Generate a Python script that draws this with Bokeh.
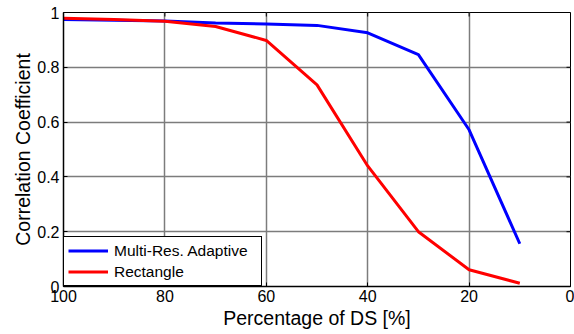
import math
from bokeh.plotting import figure
from bokeh.models import Range1d, FixedTicker, CustomJSTickFormatter, Legend, LegendItem
from bokeh.embed import file_html
from bokeh.resources import INLINE

pct = [100, 90, 80, 70, 60, 50, 40, 30, 20, 10]
adaptive = [0.974, 0.972, 0.969, 0.962, 0.958, 0.953, 0.926, 0.846, 0.572, 0.156]
rectangle = [0.979, 0.974, 0.968, 0.949, 0.898, 0.736, 0.44, 0.20, 0.061, 0.012]
x_ticks = [0, 20, 40, 60, 80, 100]
y_ticks = [0, 0.2, 0.4, 0.6, 0.8, 1.0]

FONT = "Liberation Sans"

p = figure(width=574, height=334, output_backend="svg", toolbar_location=None,
           x_range=Range1d(100, 0), y_range=Range1d(0, 1),
           min_border_left=63, min_border_right=4, min_border_top=12, min_border_bottom=48)
p.outline_line_color = "black"
p.outline_line_width = 1
p.outline_line_alpha = 1.0

fmt = CustomJSTickFormatter(code="return String(Math.round(tick*10)/10);")

for ax in [p.xaxis[0], p.yaxis[0]]:
    ax.major_tick_in = 4
    ax.major_tick_out = 0
    ax.minor_tick_in = 0
    ax.minor_tick_out = 0
    ax.axis_line_color = "black"
    ax.axis_line_width = 1.5
    ax.major_tick_line_color = "black"
    ax.major_label_text_font = FONT
    ax.major_label_text_font_size = "16px"
    ax.major_label_text_color = "black"
    ax.axis_label_text_font = FONT
    ax.axis_label_text_font_size = "19.5px"
    ax.axis_label_text_font_style = "normal"
    ax.axis_label_text_color = "black"
    ax.formatter = fmt

p.xaxis.ticker = FixedTicker(ticks=x_ticks)
p.yaxis.ticker = FixedTicker(ticks=y_ticks)
p.xaxis.axis_label = "Percentage of DS [%]"
p.yaxis.axis_label = "Correlation Coefficient"
p.xaxis.major_label_standoff = 3
p.yaxis.major_label_standoff = 4
p.xaxis.axis_label_standoff = 2
p.yaxis.axis_label_standoff = 0

p.xgrid.ticker = FixedTicker(ticks=x_ticks)
p.ygrid.ticker = FixedTicker(ticks=y_ticks)
for g in [p.xgrid[0], p.ygrid[0]]:
    g.grid_line_color = "#7c7c7c"
    g.grid_line_width = 1.5
    g.grid_line_alpha = 1.0

# inward tick marks on the top and right edges of the box
p.ray(x=x_ticks, y=[y_ticks[-1]] * len(x_ticks), length=4, length_units="screen",
      angle=-math.pi / 2, line_color="black", line_width=1)
p.ray(x=[x_ticks[0]] * len(y_ticks), y=y_ticks, length=4, length_units="screen",
      angle=math.pi, line_color="black", line_width=1)

r1 = p.line(pct, adaptive, line_color="#0000FF", line_width=3)
r2 = p.line(pct, rectangle, line_color="#FF0000", line_width=3)

legend = Legend(items=[LegendItem(label="Multi-Res. Adaptive", renderers=[r1]),
                       LegendItem(label="Rectangle", renderers=[r2])],
                location="bottom_left", margin=0, padding=4, spacing=2,
                glyph_width=40, glyph_height=19, label_height=19, label_width=143,
                label_standoff=6,
                label_text_font=FONT, label_text_font_size="15.5px", label_text_color="black",
                border_line_color="black", border_line_width=1, border_line_alpha=1.0,
                background_fill_alpha=1.0)
p.add_layout(legend)

open("out.html", "w").write(file_html(p, INLINE))
